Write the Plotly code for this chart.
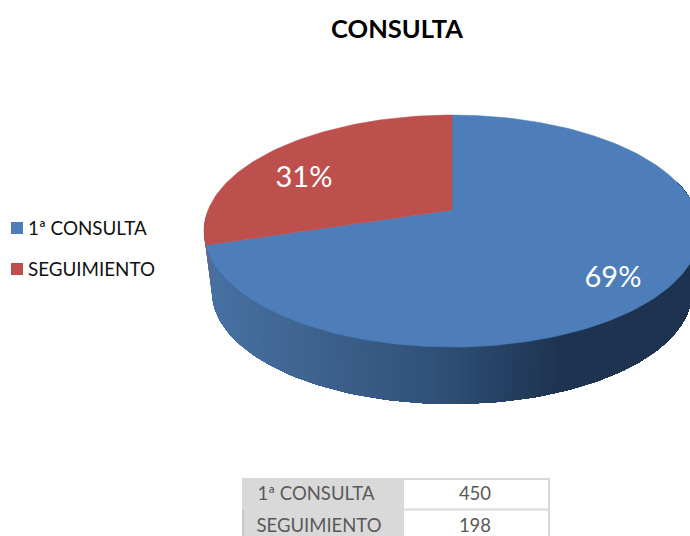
import math
import numpy as np
import plotly.graph_objects as go

# --- data
categories = ["1ª CONSULTA", "SEGUIMIENTO"]
values = [450, 198]
title_text = "CONSULTA"
slice_colors = ["#4d7eba", "#bd4f4c"]

# --- geometry of the drawing (pixels of the 690x536 page)
CX, CY_TOP, A_TOP, B_TOP, APEX_Y = 452, 231, 248, 116, 210
CY_BOT, A_BOT, B_BOT = 292, 240, 112
VIEW_WARP = 0.975
d = 2 * (CY_TOP - APEX_Y) / (2 * B_TOP)
A_P = A_TOP * math.sqrt(1 - d * d)


def proj(theta):
    """theta: radians, counter-clockwise from 12 o'clock; returns offsets on the unit ellipse."""
    u, v = -np.sin(theta), np.cos(theta)
    w = 1 + d * v
    return A_P * u / w / A_TOP, (B_TOP * v + (CY_TOP - APEX_Y)) / w / B_TOP


def top(theta):
    ex, ey = proj(theta)
    return CX + A_TOP * ex, CY_TOP - B_TOP * ey


def bottom(theta):
    ex, ey = proj(theta)
    return CX + A_BOT * ex, CY_BOT - B_BOT * ey


def side_color(x):
    stops = [(212, (70, 113, 162)), (330, (60, 96, 140)), (450, (46, 78, 117)), (560, (30, 51, 80)), (700, (30, 51, 80))]
    for (x0, c0), (x1, c1) in zip(stops, stops[1:]):
        if x <= x1:
            t = max(0, (x - x0) / (x1 - x0))
            return "rgb(%d,%d,%d)" % tuple(round(a + (b - a) * t) for a, b in zip(c0, c1))
    return "rgb(30,51,80)"


fig = go.Figure()
total = sum(values)
split = 2 * math.pi * values[1] / total * VIEW_WARP

# side wall: each band runs to the far end and the next one paints over it, so no seams show
edges = np.radians(np.linspace(90, 285, 131))
for i, t0 in enumerate(edges[:-1]):
    tt = edges[i:]
    xa, ya = top(tt)
    xb, yb = bottom(tt[::-1])
    c = side_color((xa[0] + xa[1]) / 2)
    fig.add_trace(go.Scatter(x=list(xa) + list(xb), y=list(ya) + list(yb), mode="lines", fill="toself",
                             fillcolor=c, line=dict(width=0), hoverinfo="skip", showlegend=False))

# thin red edge of the hidden slice wall
xs0, ys0 = top(np.array([split]))
xs1, ys1 = bottom(np.radians(np.array([96.0])))
fig.add_trace(go.Scatter(x=[xs0[0], xs1[0]], y=[ys0[0], ys1[0]], mode="lines", hoverinfo="skip", showlegend=False,
                         line=dict(color=slice_colors[1], width=1), opacity=0.5))

# top faces
theta_red = np.linspace(0, split, 80)
theta_blue = np.linspace(split, 2 * math.pi, 200)
for name, th, col in [(categories[0], theta_blue, slice_colors[0]), (categories[1], theta_red, slice_colors[1])]:
    x, y = top(th)
    fig.add_trace(go.Scatter(x=[CX] + list(x) + [CX], y=[APEX_Y] + list(y) + [APEX_Y], mode="lines", fill="toself",
                             fillcolor=col, line=dict(color=col, width=0.5), name=name, hoverinfo="name", showlegend=False))

# percent labels
pct = [f"{round(v / total * 100)}%" for v in values]
fig.add_trace(go.Scatter(x=[613, 304], y=[280, 180], mode="text", text=pct, hoverinfo="skip", showlegend=False,
                         textfont=dict(family="Lato", size=29, color="white")))

# legend drawn as markers with labels
fig.add_trace(go.Scatter(x=[17, 17], y=[228, 269], mode="markers", hoverinfo="skip", showlegend=False,
                         marker=dict(symbol="square", size=12, color=slice_colors)))
fig.add_trace(go.Scatter(x=[28, 28], y=[230, 271], mode="text", text=categories, textposition="middle right",
                         hoverinfo="skip", showlegend=False,
                         textfont=dict(family="Lato", size=18.8, color="#111111")))

# data table under the chart
shapes = [
    dict(type="rect", x0=242, x1=403, y0=478, y1=541, fillcolor="#d9d9d9", line_width=0, layer="below"),
    dict(type="rect", x0=403, x1=549, y0=479, y1=541, fillcolor="white", line=dict(color="#d9d9d9", width=2), layer="below"),
    dict(type="line", x0=403, x1=549, y0=509.5, y1=509.5, line=dict(color="#d9d9d9", width=2), layer="below"),
    dict(type="line", x0=243, x1=243, y0=510, y1=541, line=dict(color="#bfbfbf", width=1.5), layer="below"),
]
fig.add_trace(go.Scatter(x=[316, 319], y=[495, 527], mode="text", text=categories, hoverinfo="skip", showlegend=False,
                         textfont=dict(family="Lato", size=18.5, color="#595959")))
fig.add_trace(go.Scatter(x=[475, 475], y=[495, 527], mode="text", text=[str(v) for v in values], hoverinfo="skip",
                         showlegend=False, textfont=dict(family="Lato", size=18.5, color="#595959")))

fig.update_layout(
    width=690, height=536, margin=dict(l=0, r=0, t=0, b=0),
    paper_bgcolor="white", plot_bgcolor="white", shapes=shapes,
    title=dict(text=f"<b>{title_text}</b>", x=397 / 690, xanchor="center", y=1 - 29 / 536, yanchor="middle",
               font=dict(family="Lato", size=25.5, color="black")),
    xaxis=dict(range=[0, 690], visible=False, fixedrange=True),
    yaxis=dict(range=[536, 0], visible=False, fixedrange=True),
)
fig.write_html("out.html", config={"displayModeBar": False}, post_script="document.body.style.margin='0';")
